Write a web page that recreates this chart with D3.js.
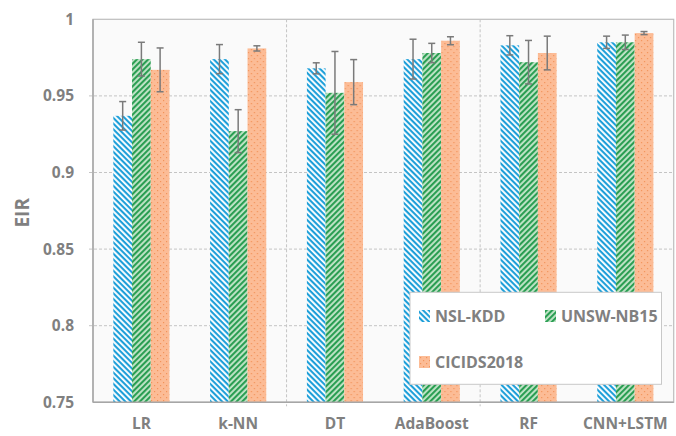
<!DOCTYPE html>
<html><head><meta charset="utf-8">
<script src="https://cdn.jsdelivr.net/npm/d3@7/dist/d3.min.js"></script>
<style>
html,body{margin:0;padding:0;background:#fff;}
svg{display:block;font-family:"Open Sans","Noto Sans",sans-serif;}
</style></head>
<body>
<svg id="c" width="676" height="436"></svg>
<script>
const categories = ["LR","k-NN","DT","AdaBoost","RF","CNN+LSTM"];
const seriesNames = ["NSL-KDD","UNSW-NB15","CICIDS2018"];
const nslValues   = [0.937, 0.974, 0.968, 0.974, 0.983, 0.985];
const nslErrors   = [0.0093, 0.0095, 0.0036, 0.013, 0.0063, 0.004];
const unswValues  = [0.974, 0.927, 0.952, 0.978, 0.972, 0.985];
const unswErrors  = [0.011, 0.014, 0.027, 0.0063, 0.0142, 0.0047];
const cicValues   = [0.967, 0.981, 0.959, 0.986, 0.978, 0.991];
const cicErrors   = [0.0143, 0.0017, 0.0147, 0.0026, 0.011, 0.001];
const yTicks = [0.75, 0.8, 0.85, 0.9, 0.95, 1];
const yTickLabels = ["0.75","0.8","0.85","0.9","0.95","1"];

const values = [nslValues, unswValues, cicValues];
const errors = [nslErrors, unswErrors, cicErrors];

const svg = d3.select("#c");
const W = 676, H = 436;
const m = {left: 93, top: 19.3, right: 2.3, bottom: 33.7};
const pw = W - m.left - m.right, ph = H - m.top - m.bottom;

const defs = svg.append("defs");
const pb = defs.append("pattern").attr("id","pBlue").attr("patternUnits","userSpaceOnUse")
  .attr("width",4).attr("height",4).attr("patternTransform","rotate(45)");
pb.append("rect").attr("width",4).attr("height",4).attr("fill","#ffffff");
pb.append("rect").attr("width",4).attr("height",2.1).attr("fill","#1e9fd9");
const pg = defs.append("pattern").attr("id","pGreen").attr("patternUnits","userSpaceOnUse")
  .attr("width",4).attr("height",4).attr("patternTransform","rotate(-45)");
pg.append("rect").attr("width",4).attr("height",4).attr("fill","#c3e5c9");
pg.append("rect").attr("width",4).attr("height",2.1).attr("fill","#2a9e52");
const po = defs.append("pattern").attr("id","pOrange").attr("patternUnits","userSpaceOnUse")
  .attr("width",6).attr("height",6);
po.append("rect").attr("width",6).attr("height",6).attr("fill","#fcbc96");
po.append("rect").attr("x",1).attr("y",1).attr("width",1.2).attr("height",1.2).attr("fill","#f2935a");
po.append("rect").attr("x",4).attr("y",4).attr("width",1.2).attr("height",1.2).attr("fill","#f2935a");
const fills = ["url(#pBlue)","url(#pGreen)","url(#pOrange)"];

const y = d3.scaleLinear().domain([0.75, 1]).range([m.top + ph, m.top]);
const x0 = d3.scaleBand().domain(categories).range([m.left, m.left + pw]).padding(0);
const bw = x0.bandwidth();
const x1 = d3.scaleBand().domain(seriesNames).range([bw*0.21, bw*0.79]).padding(0);

const grey = "#808080";
svg.append("rect").attr("x", m.left).attr("y", m.top).attr("width", pw).attr("height", ph)
  .attr("fill","#fafafa").attr("stroke","#bdbdbd").attr("stroke-width",1.2);

svg.append("g").selectAll("line").data(yTicks.filter(t => t > 0.75 && t < 1)).join("line")
  .attr("x1", m.left - 4).attr("x2", m.left + pw)
  .attr("y1", d => y(d)).attr("y2", d => y(d))
  .attr("stroke","#c4c4c4").attr("stroke-width",1).attr("stroke-dasharray","3,2");
const seps = [categories[2], categories[4]];
svg.append("g").selectAll("line").data(seps).join("line")
  .attr("x1", d => x0(d)).attr("x2", d => x0(d))
  .attr("y1", m.top).attr("y2", m.top + ph + 4)
  .attr("stroke","#c4c4c4").attr("stroke-width",1).attr("stroke-dasharray","3,2");

const groups = svg.append("g").selectAll("g").data(categories).join("g")
  .attr("transform", c => `translate(${x0(c)},0)`);
groups.selectAll("rect").data((c, i) => seriesNames.map((s, k) => ({s, k, v: values[k][i], e: errors[k][i]})))
  .join("rect")
  .attr("x", d => x1(d.s)).attr("width", x1.bandwidth())
  .attr("y", d => y(d.v)).attr("height", d => y(0.75) - y(d.v))
  .attr("fill", d => fills[d.k]);
const eb = groups.selectAll("g.eb").data((c, i) => seriesNames.map((s, k) => ({s, k, v: values[k][i], e: errors[k][i]})))
  .join("g").attr("class","eb")
  .attr("transform", d => `translate(${x1(d.s) + x1.bandwidth()/2},0)`)
  .attr("stroke","#7a7a7a").attr("stroke-width",1.5);
eb.append("line").attr("y1", d => y(d.v + d.e)).attr("y2", d => y(d.v - d.e));
eb.append("line").attr("x1",-3.5).attr("x2",3.5).attr("y1", d => y(d.v + d.e)).attr("y2", d => y(d.v + d.e));
eb.append("line").attr("x1",-3.5).attr("x2",3.5).attr("y1", d => y(d.v - d.e)).attr("y2", d => y(d.v - d.e));

svg.append("line").attr("x1", m.left).attr("x2", m.left).attr("y1", m.top).attr("y2", m.top + ph)
  .attr("stroke","#a6a6a6").attr("stroke-width",1.5);
svg.append("line").attr("x1", m.left).attr("x2", m.left + pw).attr("y1", m.top + ph).attr("y2", m.top + ph)
  .attr("stroke","#a6a6a6").attr("stroke-width",1.5);

const yAxis = d3.axisLeft(y).tickValues(yTicks).tickFormat((d, i) => yTickLabels[i]).tickSize(0).tickPadding(19);
const ya = svg.append("g").attr("transform", `translate(${m.left},0)`).call(yAxis);
ya.select(".domain").remove();
ya.selectAll("text").attr("fill", grey).attr("font-size", 15.5).attr("font-weight","bold")
  .attr("font-family","'Open Sans','Noto Sans',sans-serif");

const xAxis = d3.axisBottom(x0).tickSize(0).tickPadding(16);
const xa = svg.append("g").attr("transform", `translate(0,${m.top + ph})`).call(xAxis);
xa.select(".domain").remove();
xa.selectAll("text").attr("fill", grey).attr("font-size", 15.5).attr("font-weight","bold")
  .attr("font-family","'Open Sans','Noto Sans',sans-serif");

svg.append("text").attr("transform", `translate(29,${m.top + ph/2 + 2}) rotate(-90)`)
  .attr("text-anchor","middle").attr("fill", grey).attr("font-size", 19).attr("font-weight","bold")
  .text("EIR");

const lg = svg.append("g");
lg.append("rect").attr("x",410).attr("y",292.3).attr("width",251.5).attr("height",92)
  .attr("fill","#ffffff").attr("stroke","#c8c8c8").attr("stroke-width",1);
const legPos = [{x:419, y:316}, {x:545, y:316}, {x:419, y:362}];
const li = lg.selectAll("g.li").data(seriesNames).join("g").attr("class","li")
  .attr("transform", (d, k) => `translate(${legPos[k].x},${legPos[k].y})`);
li.append("rect").attr("x",0).attr("y",-6).attr("width",11).attr("height",12)
  .attr("fill", (d, k) => fills[k]);
li.append("text").attr("x",16).attr("y",0).attr("dy","0.35em").attr("fill", grey)
  .attr("font-size",16).attr("font-weight","bold").text(d => d);
</script>
</body></html>
